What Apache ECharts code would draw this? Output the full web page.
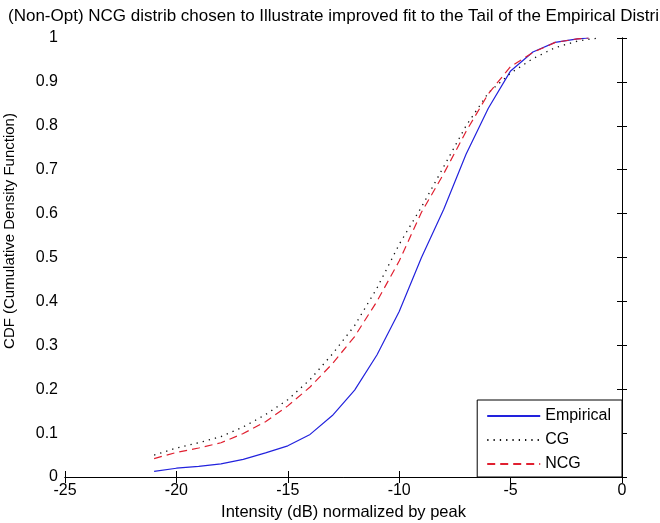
<!DOCTYPE html>
<html>
<head>
<meta charset="utf-8">
<script src="https://cdn.jsdelivr.net/npm/echarts@6/dist/echarts.min.js"></script>
<style>
  html, body { margin: 0; padding: 0; background: #fff; }
  #chart { width: 660px; height: 523px; }
</style>
</head>
<body>
<div id="chart"></div>
<script>
// intensity (dB) sample points
const xs = [-21, -20, -19, -18, -17, -16, -15, -14, -13, -12, -11, -10, -9, -8, -7, -6, -5, -4, -3, -2, -1.5, -1]

const empirical = [0.013, 0.020, 0.024, 0.030, 0.040, 0.055, 0.071, 0.097, 0.140, 0.198, 0.278, 0.377, 0.500, 0.610, 0.735, 0.840, 0.925, 0.968, 0.990, 0.998, 1.0, null]
const cg = [0.050, 0.066, 0.078, 0.092, 0.114, 0.142, 0.176, 0.222, 0.280, 0.345, 0.430, 0.530, 0.615, 0.707, 0.800, 0.875, 0.920, 0.953, 0.978, 0.993, 0.997, 1.0]
const ncg = [0.042, 0.056, 0.066, 0.078, 0.099, 0.126, 0.162, 0.205, 0.258, 0.320, 0.400, 0.492, 0.603, 0.691, 0.787, 0.873, 0.935, 0.967, 0.990, 0.998, 1.0, null]

const xTicks = [-25, -20, -15, -10, -5, 0]
const yTicks = [0, 0.1, 0.2, 0.3, 0.4, 0.5, 0.6, 0.7, 0.8, 0.9, 1]

const pairs = ys => xs.map((x, i) => [x, ys[i]]).filter(p => p[1] !== null)

const FONT = 'Liberation Sans'
const chart = echarts.init(document.getElementById('chart'))

const axisCommon = len => ({
  axisLine: { lineStyle: { color: '#000', width: 1 } },
  axisTick: { inside: true, length: len, lineStyle: { color: '#000' } },
  splitLine: { show: false }
})

const option = {
  animation: false,
  backgroundColor: '#fff',
  title: {
    text: '(Non-Opt) NCG distrib chosen to Illustrate improved fit to the Tail of the Empirical Distribution',
    left: 3,
    top: 3,
    textStyle: { fontFamily: FONT, fontSize: 17, fontWeight: 'normal', color: '#000' }
  },
  graphic: [{
    type: 'text',
    x: 10,
    y: 231,
    rotation: Math.PI / 2,
    style: {
      text: 'CDF (Cumulative Density Function)',
      font: '15px "Liberation Sans"',
      fill: '#000',
      textAlign: 'center',
      textVerticalAlign: 'middle'
    }
  }],
  grid: { left: 65, right: 38, top: 38, bottom: 46, outerBoundsMode: 'none' },
  legend: {
    orient: 'vertical',
    right: 38,
    bottom: 46,
    backgroundColor: '#fff',
    borderColor: '#000',
    borderWidth: 1,
    borderRadius: 0,
    padding: [8, 11, 5, 9],
    itemWidth: 53,
    itemHeight: 16,
    itemGap: 8,
    itemStyle: { opacity: 0 },
    textStyle: { fontFamily: FONT, fontSize: 16, color: '#000' },
    data: ['Empirical', 'CG', 'NCG']
  },
  xAxis: [
    Object.assign({
      type: 'value', min: -25, max: 0, interval: 5,
      name: 'Intensity (dB) normalized by peak',
      nameLocation: 'middle', nameGap: 26,
      nameTextStyle: { fontFamily: FONT, fontSize: 16.5, color: '#000' },
      axisLabel: { fontFamily: FONT, fontSize: 16, color: '#000', margin: 6,
        formatter: v => xTicks.includes(v) ? String(v) : '' }
    }, axisCommon(6)),
    Object.assign({
      type: 'value', min: -25, max: 0, interval: 5, position: 'top',
      axisLabel: { show: false }
    }, axisCommon(6))
  ],
  yAxis: [
    Object.assign({
      type: 'value', min: 0, max: 1, interval: 0.1,
      axisLabel: { fontFamily: FONT, fontSize: 16, color: '#000', margin: 7,
        formatter: v => {
          const t = yTicks.find(y => Math.abs(y - v) < 1e-9)
          return t === undefined ? '' : String(t)
        } }
    }, axisCommon(5)),
    Object.assign({
      type: 'value', min: 0, max: 1, interval: 0.1, position: 'right',
      axisLabel: { show: false }
    }, axisCommon(5))
  ],
  series: [
    {
      name: 'Empirical', type: 'line', symbol: 'none',
      data: pairs(empirical),
      lineStyle: { color: '#2222dd', width: 1.2, type: 'solid' },
      itemStyle: { color: '#2222dd' }
    },
    {
      name: 'CG', type: 'line', symbol: 'none',
      data: pairs(cg),
      lineStyle: { color: '#111', width: 1.3, type: [1.3, 5] },
      itemStyle: { color: '#111' }
    },
    {
      name: 'NCG', type: 'line', symbol: 'none',
      data: pairs(ncg),
      lineStyle: { color: '#e02030', width: 1.2, type: [8, 5] },
      itemStyle: { color: '#e02030' }
    }
  ]
}

chart.setOption(option)
</script>
</body>
</html>
